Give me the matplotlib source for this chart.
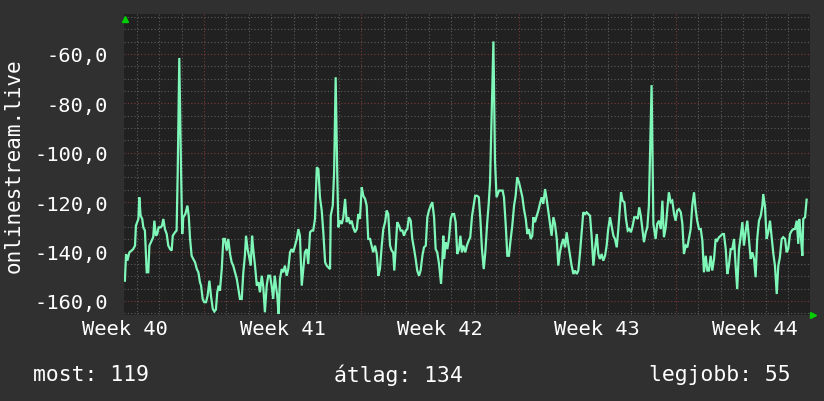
import matplotlib
matplotlib.use("Agg")
import matplotlib.pyplot as plt
import matplotlib.transforms as mtransforms
import numpy as np

# time axis: days counted from the Monday that starts week 40
days = [
    3.48, 3.53, 3.59, 3.68, 3.78, 3.85, 3.93, 3.97, 4.08, 4.12, 4.18, 4.25, 4.30, 4.37, 4.45, 4.52,
    4.57, 4.67, 4.74, 4.79, 4.86, 4.92, 4.98, 5.07, 5.13, 5.19, 5.26, 5.34, 5.41, 5.49, 5.56, 5.61,
    5.71, 5.78, 5.83, 5.90, 5.98, 6.03, 6.08, 6.17, 6.26, 6.32, 6.38, 6.45, 6.52, 6.60, 6.68, 6.75,
    6.82, 6.87, 6.94, 7.01, 7.09, 7.16, 7.24, 7.31, 7.39, 7.46, 7.53, 7.59, 7.65, 7.71, 7.79, 7.86,
    7.93, 8.01, 8.08, 8.16, 8.23, 8.30, 8.38, 8.46, 8.53, 8.60, 8.68, 8.75, 8.82, 8.87, 8.94, 9.00,
    9.08, 9.14, 9.19, 9.27, 9.35, 9.42, 9.49, 9.57, 9.64, 9.71, 9.79, 9.86, 9.94, 10.01, 10.08, 10.15,
    10.20, 10.26, 10.32, 10.38, 10.46, 10.53, 10.60, 10.68, 10.75, 10.83, 10.90, 10.97, 11.05, 11.13, 11.20, 11.27,
    11.35, 11.42, 11.49, 11.57, 11.64, 11.72, 11.79, 11.86, 11.94, 12.02, 12.09, 12.16, 12.24, 12.31, 12.39, 12.46,
    12.53, 12.61, 12.64, 12.73, 12.79, 12.86, 12.93, 12.98, 13.05, 13.13, 13.20, 13.28, 13.35, 13.42, 13.50, 13.57,
    13.64, 13.72, 13.80, 13.87, 13.94, 14.02, 14.09, 14.17, 14.24, 14.31, 14.39, 14.46, 14.53, 14.61, 14.69, 14.76,
    14.83, 14.91, 14.98, 15.06, 15.13, 15.20, 15.28, 15.35, 15.42, 15.47, 15.53, 15.60, 15.68, 15.75, 15.83, 15.90,
    15.98, 16.05, 16.12, 16.20, 16.27, 16.35, 16.42, 16.49, 16.57, 16.64, 16.72, 16.79, 16.87, 16.94, 17.01, 17.09,
    17.16, 17.24, 17.31, 17.38, 17.46, 17.55, 17.61, 17.65, 17.69, 17.76, 17.83, 17.90, 17.98, 18.05, 18.13, 18.20,
    18.27, 18.35, 18.41, 18.48, 18.54, 18.63, 18.70, 18.78, 18.85, 18.93, 19.00, 19.07, 19.15, 19.23, 19.30, 19.37,
    19.45, 19.52, 19.60, 19.67, 19.73, 19.88, 19.95, 20.02, 20.13, 20.20, 20.29, 20.35, 20.43, 20.50, 20.57, 20.65,
    20.72, 20.80, 20.87, 20.94, 21.02, 21.09, 21.17, 21.24, 21.32, 21.39, 21.46, 21.54, 21.61, 21.66, 21.73, 21.81,
    21.88, 21.95, 22.03, 22.10, 22.18, 22.25, 22.32, 22.40, 22.47, 22.55, 22.62, 22.70, 22.77, 22.84, 22.92, 22.99,
    23.07, 23.14, 23.21, 23.29, 23.36, 23.44, 23.51, 23.59, 23.66, 23.73, 23.81, 23.88, 23.96, 24.03, 24.10, 24.18,
    24.25, 24.33, 24.40, 24.48, 24.55, 24.62, 24.70, 24.77, 24.85, 24.92, 24.99, 25.07, 25.14, 25.22, 25.29, 25.37,
    25.44, 25.51, 25.56, 25.63, 25.71, 25.78, 25.86, 25.93, 26.00, 26.08, 26.15, 26.23, 26.30, 26.37, 26.44, 26.51,
    26.58, 26.66, 26.73, 26.80, 26.92, 27.00, 27.10, 27.17, 27.25, 27.33, 27.40, 27.47, 27.55, 27.62, 27.69, 27.77,
    27.84, 27.92, 27.99, 28.06, 28.14, 28.22, 28.29, 28.36, 28.44, 28.51, 28.58, 28.66, 28.73, 28.81, 28.88, 28.95,
    29.03, 29.11, 29.18, 29.25, 29.33, 29.40, 29.47, 29.55, 29.62, 29.70, 29.77, 29.84, 29.92, 30.00, 30.07, 30.14,
    30.22, 30.29, 30.36, 30.44, 30.51, 30.59, 30.66, 30.73, 30.81, 30.89, 30.96, 31.03, 31.11, 31.18, 31.25, 31.33,
    31.40, 31.48, 31.55, 31.62, 31.70, 31.78, 31.85, 31.89, 31.97, 32.04, 32.11, 32.19, 32.27, 32.34, 32.41, 32.49,
    32.56, 32.63, 32.71, 32.78, 32.86, 32.93, 33.00, 33.08, 33.16, 33.23, 33.30, 33.38, 33.45, 33.49, 33.56, 33.63,
    33.67, 33.75, 33.82,
]

# position (plotted negative, so a better rank is higher)
rank = [
    -151.8, -141.0, -143.7, -140.3, -139.6, -139.0, -137.6, -129.5, -126.8, -118.0, -125.5, -126.8, -130.2, -131.5, -148.4, -148.4,
    -137.6, -135.6, -134.2, -127.5, -133.6, -132.9, -130.2, -130.2, -129.5, -126.8, -130.9, -132.9, -137.6, -139.0, -139.6, -133.6,
    -132.2, -131.5, -107.9, -61.6, -107.9, -132.9, -126.1, -124.8, -121.4, -125.5, -134.9, -141.7, -143.0, -144.3, -147.1, -148.4,
    -152.4, -153.8, -159.2, -160.5, -160.5, -157.9, -151.8, -157.9, -163.2, -164.3, -163.5, -156.5, -153.8, -155.8, -147.1, -134.9,
    -134.9, -139.6, -134.9, -141.0, -144.3, -145.7, -148.4, -151.1, -155.2, -159.2, -159.2, -148.4, -141.7, -133.6, -139.0, -141.7,
    -145.7, -133.6, -139.0, -145.7, -153.8, -152.4, -156.5, -149.8, -154.5, -164.6, -153.8, -149.8, -149.8, -153.8, -159.2, -149.8,
    -153.8, -157.9, -165.3, -151.1, -147.1, -148.4, -145.7, -149.8, -147.1, -140.3, -139.0, -140.3, -137.6, -134.9, -130.9, -133.6,
    -153.8, -147.1, -140.3, -139.0, -145.0, -132.2, -131.5, -131.5, -126.8, -105.9, -106.6, -118.0, -123.4, -132.2, -144.3, -145.7,
    -146.4, -147.1, -125.5, -121.4, -107.9, -69.4, -108.6, -130.2, -127.5, -128.8, -126.1, -118.7, -128.1, -126.1, -128.8, -127.5,
    -130.2, -132.2, -130.9, -124.8, -126.8, -114.0, -117.4, -118.7, -121.4, -134.9, -134.9, -137.6, -140.3, -137.6, -141.0, -149.8,
    -147.1, -137.6, -130.9, -128.1, -123.4, -124.8, -137.6, -139.6, -140.3, -147.7, -139.0, -128.1, -129.5, -131.5, -131.5, -133.6,
    -131.5, -130.9, -126.1, -127.5, -134.9, -139.0, -143.0, -147.7, -149.8, -147.7, -141.7, -138.3, -137.6, -126.1, -123.4, -121.4,
    -120.0, -126.1, -139.0, -140.3, -145.0, -153.1, -143.0, -133.6, -143.0, -136.2, -139.0, -134.9, -126.8, -124.8, -124.8, -128.1,
    -141.0, -139.0, -133.6, -140.3, -137.6, -140.3, -137.6, -135.6, -134.2, -125.5, -121.4, -117.4, -117.4, -118.0, -126.8, -139.0,
    -147.1, -140.3, -128.8, -120.7, -112.0, -54.9, -103.2, -118.0, -115.3, -115.3, -115.3, -118.0, -129.5, -141.7, -141.7, -134.9,
    -129.5, -121.4, -117.4, -109.9, -112.0, -114.7, -118.0, -122.8, -126.8, -132.9, -130.9, -134.9, -133.6, -126.1, -128.1, -125.5,
    -123.4, -120.7, -118.0, -120.7, -114.7, -118.7, -123.4, -128.8, -133.6, -126.1, -128.8, -134.9, -145.7, -140.3, -136.9, -134.9,
    -138.3, -132.2, -136.9, -141.7, -145.7, -149.1, -147.7, -149.1, -147.7, -141.0, -132.2, -124.1, -124.8, -124.1, -124.8, -125.5,
    -133.6, -145.7, -139.0, -132.9, -141.0, -143.0, -141.0, -143.7, -141.7, -137.6, -130.9, -126.1, -129.5, -133.6, -134.9, -138.3,
    -130.9, -122.1, -116.0, -119.4, -120.0, -126.8, -131.5, -130.9, -132.2, -129.5, -126.1, -126.1, -126.8, -122.1, -125.5, -130.9,
    -136.2, -132.2, -130.2, -121.4, -72.6, -128.8, -134.9, -128.8, -127.5, -130.9, -119.4, -134.2, -130.2, -122.8, -116.0, -120.0,
    -119.4, -124.8, -127.5, -123.4, -122.8, -124.1, -128.8, -141.0, -137.6, -138.3, -134.9, -130.9, -121.4, -116.0, -122.8, -127.5,
    -130.9, -130.9, -135.6, -148.4, -141.7, -147.7, -147.7, -141.7, -147.7, -143.0, -134.9, -135.6, -134.2, -133.6, -132.9, -132.9,
    -139.0, -149.1, -145.7, -139.0, -139.0, -134.9, -145.7, -155.2, -139.0, -133.6, -128.1, -137.6, -131.5, -127.5, -134.9, -143.0,
    -140.3, -143.0, -150.4, -134.9, -127.5, -125.5, -121.4, -116.7, -122.1, -134.9, -132.2, -127.5, -134.9, -141.0, -145.7, -157.2,
    -145.7, -142.3, -134.9, -134.2, -134.9, -140.3, -139.0, -132.9, -131.5, -130.9, -130.9, -127.5, -136.9, -126.8, -133.6, -141.7,
    -126.8, -126.1, -119.0,
]

weeks = [40, 41, 42, 43, 44]
week_labels = ["Week %d" % w for w in weeks]
stats = ["most: 119", "átlag: 134", "legjobb: 55"]
series_name = "onlinestream.live"

BG = "#303030"
PLOT_BG = "#212121"
LINE = "#7ef7b8"
MINOR = "#5c5c5c"
MAJOR = "#7c3838"
ARROW = "#00d000"
MONO = "DejaVu Sans Mono"

fig = plt.figure(figsize=(8.24, 4.02), dpi=100, facecolor=BG)
ax = fig.add_axes([0.1505, 0.2139, 0.8325, 0.7488], facecolor=PLOT_BG)

ax.plot(days, rank, color=LINE, lw=1.6, solid_joinstyle="miter", zorder=3)

ax.set_xlim(3.44, 33.97)
ax.set_ylim(-165.7, -43.8)

# grid: a dotted line every day / every 5 places, red ones on weeks / every 20
week_starts = 7 * np.arange(1, len(weeks))
day_lines = [d for d in range(4, 34) if d % 7 != 0]
y_major = np.arange(-160, -59, 20)
y_minor = [v for v in range(-165, -44, 5) if v % 20 != 0]

dots = (0, (1, 2))
for d in day_lines:
    ax.axvline(d, color=MINOR, lw=0.8, ls=dots, zorder=1)
for v in y_minor:
    ax.axhline(v, color=MINOR, lw=0.8, ls=dots, zorder=1)
for d in week_starts:
    ax.axvline(d, color=MAJOR, lw=0.8, ls=dots, zorder=2)
for v in y_major:
    ax.axhline(v, color=MAJOR, lw=0.8, ls=dots, zorder=2)

# week labels sit in the middle of each week
ax.set_xticks(7 * np.arange(len(weeks)) + 3.5)
ax.set_xticklabels(week_labels)
ax.set_yticks(y_major)
ax.set_yticklabels([("%.1f" % v).replace(".", ",") for v in y_major])
ax.tick_params(axis="both", length=0, colors="white", labelsize=14.7)
ax.tick_params(axis="y", pad=11.5)
ax.tick_params(axis="x", pad=3)
for lab in ax.get_xticklabels() + ax.get_yticklabels():
    lab.set_family(MONO)

for s in ax.spines.values():
    s.set_visible(False)

# small green arrows at the end of the axes
up = mtransforms.offset_copy(ax.transAxes, fig=fig, x=1, y=-5, units="dots")
ax.plot([0], [1], transform=up, marker="^", ms=5, color=ARROW, clip_on=False, zorder=5)
right = mtransforms.offset_copy(ax.transAxes, fig=fig, x=3, y=0, units="dots")
ax.plot([1], [0], transform=right, marker=">", ms=5, color=ARROW, clip_on=False, zorder=5)

fig.text(0.017, 0.589, series_name, rotation=90, ha="center", va="center",
         color="white", fontsize=15, family=MONO)

fig.text(0.040, 0.067, stats[0], ha="left", va="center", color="white", fontsize=15.4, family=MONO)
fig.text(0.483, 0.067, stats[1], ha="center", va="center", color="white", fontsize=15.4, family=MONO)
fig.text(0.960, 0.067, stats[2], ha="right", va="center", color="white", fontsize=15.4, family=MONO)

fig.savefig("out.png", dpi=100, facecolor=BG)
